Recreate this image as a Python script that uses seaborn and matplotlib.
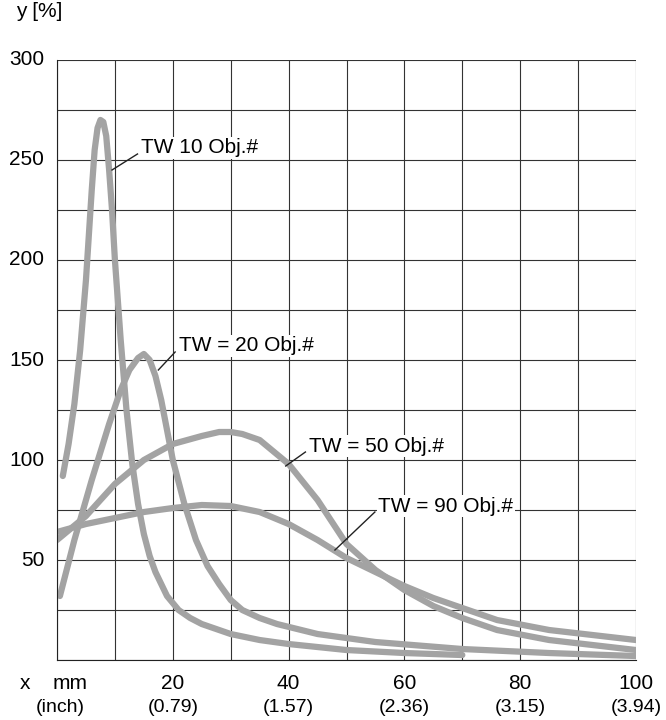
import numpy as np
import pandas as pd
import seaborn as sns
import matplotlib.pyplot as plt

# values
tw10_x = [1, 2, 3, 4, 5, 6, 6.5, 7, 7.5, 8, 8.5, 9, 9.5, 10, 11, 12, 13, 14, 15, 16, 17, 18, 19, 21, 23, 25, 30, 35, 40, 50, 60, 70]
tw10_y = [92, 108, 128, 155, 190, 235, 255, 266, 270, 269, 262, 245, 225, 200, 160, 125, 98, 78, 63, 52, 44, 38, 32, 25, 21, 18, 13, 10, 8, 5, 3.5, 2.5]
tw20_x = [0.5, 3, 6, 9, 11, 12.5, 14, 15, 16, 17, 18, 19, 20, 22, 24, 26, 28, 30, 32, 35, 38, 45, 55, 70, 85, 100]
tw20_y = [32, 60, 90, 118, 135, 145, 151, 153, 150, 142, 130, 115, 100, 78, 60, 47, 38, 30, 25, 21, 18, 13, 9, 5.5, 3.5, 2]
tw50_x = [0, 5, 10, 15, 20, 25, 28, 30, 32, 35, 40, 45, 50, 55, 60, 65, 70, 76, 85, 100]
tw50_y = [60, 72, 88, 100, 108, 112, 114, 114, 113, 110, 98, 80, 58, 45, 35, 27, 21, 15, 10, 5]
tw90_x = [0, 5, 10, 15, 20, 25, 30, 35, 40, 45, 50, 55, 60, 65, 70, 76, 85, 100]
tw90_y = [64, 68, 71, 74, 76, 77.5, 77, 74, 68, 60, 51, 44, 37, 31, 26, 20, 15, 10]

series = ['TW 10 Obj.#', 'TW = 20 Obj.#', 'TW = 50 Obj.#', 'TW = 90 Obj.#']
label_pos = [(14.5, 256), (21, 157), (43.5, 107), (55.5, 77)]
leader_from = [(9.5, 245), (17.5, 145), (39.5, 97), (48, 55)]

x_ticks = [20, 40, 60, 80, 100]
inch_labels = ['(0.79)', '(1.57)', '(2.36)', '(3.15)', '(3.94)']
y_ticks = [50, 100, 150, 200, 250, 300]

frames = []
for name, xs, ys in zip(series, [tw10_x, tw20_x, tw50_x, tw90_x], [tw10_y, tw20_y, tw50_y, tw90_y]):
    frames.append(pd.DataFrame({'x': xs, 'y': ys, 'curve': name}))
df = pd.concat(frames)

plt.rcParams['font.family'] = 'Liberation Sans'
fig = plt.figure(figsize=(6.66, 7.2), dpi=100)
ax = fig.add_axes([0.0856, 0.0833, 0.8694, 0.8334])

gray = '#a3a3a3'
sns.lineplot(data=df, x='x', y='y', units='curve', estimator=None, sort=False,
             color=gray, lw=4.5, ax=ax, legend=False,
             solid_capstyle='round', solid_joinstyle='round')

ax.set_xlim(0, 100)
ax.set_ylim(0, 300)
ax.set_xticks(np.arange(0, 101, 10))
ax.set_yticks(np.arange(0, 301, 25))
ax.grid(True, color='#333333', lw=0.8)
ax.set_axisbelow(True)
ax.tick_params(length=0, labelbottom=False, labelleft=False)
for s in ['top', 'right']:
    ax.spines[s].set_visible(False)
for s in ['left', 'bottom']:
    ax.spines[s].set_color('#222222')
ax.set_xlabel('')
ax.set_ylabel('')

fs = 15
for name, (tx, ty), (fx, fy) in zip(series, label_pos, leader_from):
    ax.plot([fx, tx - 0.6], [fy, ty - 3], color='#222222', lw=1)
    ax.text(tx, ty, name, fontsize=fs, va='center', ha='left',
            bbox=dict(facecolor='white', edgecolor='none', pad=1))

for v in y_ticks:
    ax.text(-2.2, v, str(v), fontsize=fs, ha='right', va='center', clip_on=False)
for v, inch in zip(x_ticks, inch_labels):
    ax.text(v, -11.5, str(v), fontsize=fs, ha='center', va='center', clip_on=False)
    ax.text(v, -23.5, inch, fontsize=fs - 1, ha='center', va='center', clip_on=False)

ax.text(-5.5, -11.5, 'x', fontsize=fs, ha='center', va='center')
ax.text(2.2, -11.5, 'mm', fontsize=fs, ha='center', va='center')
ax.text(0.5, -23.5, '(inch)', fontsize=fs - 1, ha='center', va='center')
ax.text(-7, 324, 'y [%]', fontsize=fs, ha='left', va='center')

fig.savefig('out.png', dpi=100)
